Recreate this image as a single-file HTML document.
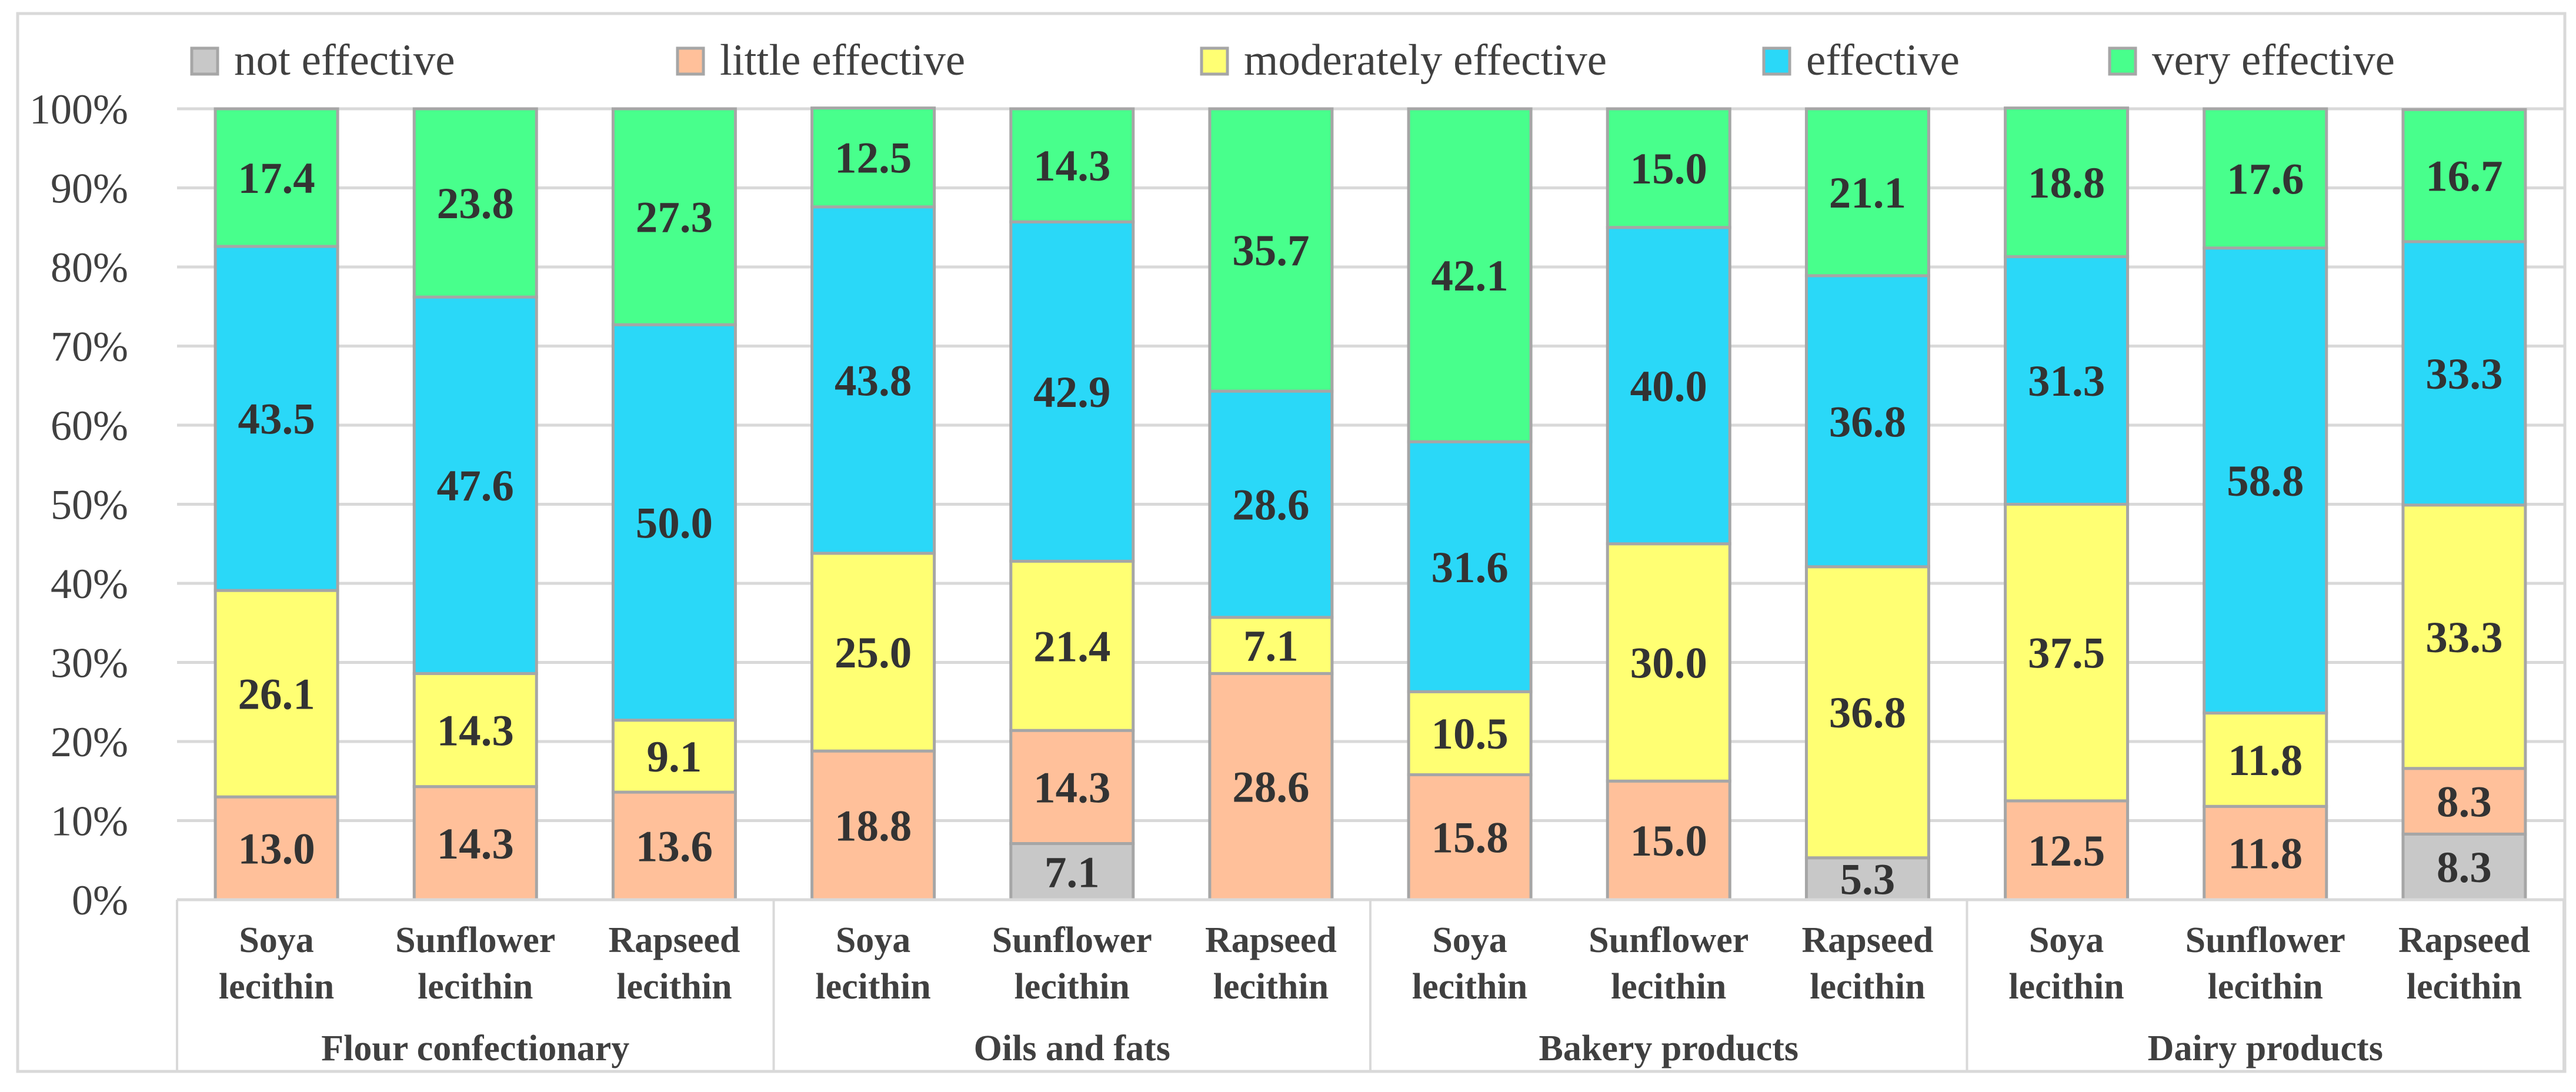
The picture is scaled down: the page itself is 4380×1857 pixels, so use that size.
<!DOCTYPE html>
<html><head><meta charset="utf-8"><style>
html,body{margin:0;padding:0;background:#fff;}
svg{display:block;}
text{font-family:"Liberation Serif",serif;}
</style></head><body>
<svg id="chart" width="4380" height="1857" viewBox="0 0 4380 1857" xmlns="http://www.w3.org/2000/svg">
<rect x="30" y="23" width="4331" height="1799" fill="#fff" stroke="#D9D9D9" stroke-width="5"/>
<g id="grid"></g><g id="bars"></g><g id="labels"></g><g id="axis"></g><g id="legend"></g>
</svg>
<script>
const groups = ["Flour confectionary","Oils and fats","Bakery products","Dairy products"];
const categories = ["Soya|lecithin","Sunflower|lecithin","Rapseed|lecithin","Soya|lecithin","Sunflower|lecithin","Rapseed|lecithin","Soya|lecithin","Sunflower|lecithin","Rapseed|lecithin","Soya|lecithin","Sunflower|lecithin","Rapseed|lecithin"];
const seriesNames = ["not effective","little effective","moderately effective","effective","very effective"];
const notEffective = [0,0,0,0,7.1,0,0,0,5.3,0,0,8.3];
const littleEffective = [13.0,14.3,13.6,18.8,14.3,28.6,15.8,15.0,0,12.5,11.8,8.3];
const moderatelyEffective = [26.1,14.3,9.1,25.0,21.4,7.1,10.5,30.0,36.8,37.5,11.8,33.3];
const effective = [43.5,47.6,50.0,43.8,42.9,28.6,31.6,40.0,36.8,31.3,58.8,33.3];
const veryEffective = [17.4,23.8,27.3,12.5,14.3,35.7,42.1,15.0,21.1,18.8,17.6,16.7];
const yTicks = [0,10,20,30,40,50,60,70,80,90,100];

const colors = ["#C8C8C8","#FFC09A","#FFFF73","#2AD8F8","#48FF8C"];
const series = [notEffective,littleEffective,moderatelyEffective,effective,veryEffective];
const NS="http://www.w3.org/2000/svg";
const X0=301, X1=4359, Y0=1530, Y100=185, FB=1822;
const slot=(X1-X0)/categories.length, BW=208;
const y=v=>Y0-(Y0-Y100)*v/100;
const xc=i=>X0+slot*(i+0.5);
function mk(tag,attrs,parent,txt){const e=document.createElementNS(NS,tag);for(const k in attrs)e.setAttribute(k,attrs[k]);if(txt!==undefined)e.textContent=txt;parent.appendChild(e);return e;}
const grid=document.getElementById('grid'),bars=document.getElementById('bars'),labels=document.getElementById('labels'),axis=document.getElementById('axis'),legend=document.getElementById('legend');
yTicks.forEach(t=>{
  const l=mk('line',{x1:X0,x2:X1,y1:y(t),y2:y(t),stroke:'#D9D9D9','stroke-width':5},grid);
  
  
  const tx=mk('text',{x:218,y:y(t)+25,'text-anchor':'end','font-size':72,fill:'#404040'},axis,t+'%');
  
  
});
categories.forEach((c,i)=>{
  let cum=0;
  series.forEach((s,k)=>{
    const v=s[i]; if(!v){return;}
    const top=y(cum+v), bot=y(cum);
    const r=mk('rect',{x:xc(i)-BW/2,y:top,width:BW,height:bot-top,fill:colors[k],stroke:'#A6A6A6','stroke-width':5},bars);
    
    
    const t=mk('text',{x:xc(i),y:(top+bot)/2+26,'text-anchor':'middle','font-size':75,'font-weight':'bold',fill:'#333'},labels,v.toFixed(1));
    
    
    cum+=v;
  });
  const parts=c.split('|');
  const a=mk('text',{x:xc(i),y:1619,'text-anchor':'middle','font-size':62,'font-weight':'bold',fill:'#404040'},axis,parts[0]);
  
  
  const b=mk('text',{x:xc(i),y:1698,'text-anchor':'middle','font-size':62,'font-weight':'bold',fill:'#404040'},axis,parts[1]);
  
  
});
const ax=mk('line',{x1:X0,x2:X1,y1:Y0,y2:Y0,stroke:'#D9D9D9','stroke-width':5},axis);


for(let g=0;g<=groups.length;g++){
  const gx=X0+g*slot*3;
  const l=mk('line',{x1:gx,x2:gx,y1:Y0,y2:FB,stroke:'#D9D9D9','stroke-width':4},axis);
  
  
  if(g<groups.length){
    const t=mk('text',{x:gx+slot*1.5,y:1803,'text-anchor':'middle','font-size':62,'font-weight':'bold',fill:'#404040'},axis,groups[g]);
    
    
  }
}
const legX=[326,1152,2043,2999,3587];
seriesNames.forEach((n,k)=>{
  const r=mk('rect',{x:legX[k],y:82,width:44,height:44,fill:colors[k],stroke:'#A6A6A6','stroke-width':5},legend);
  
  
  const t=mk('text',{x:legX[k]+72,y:127,'font-size':75,fill:'#404040'},legend,n);
  
  
});
</script>
</body></html>
